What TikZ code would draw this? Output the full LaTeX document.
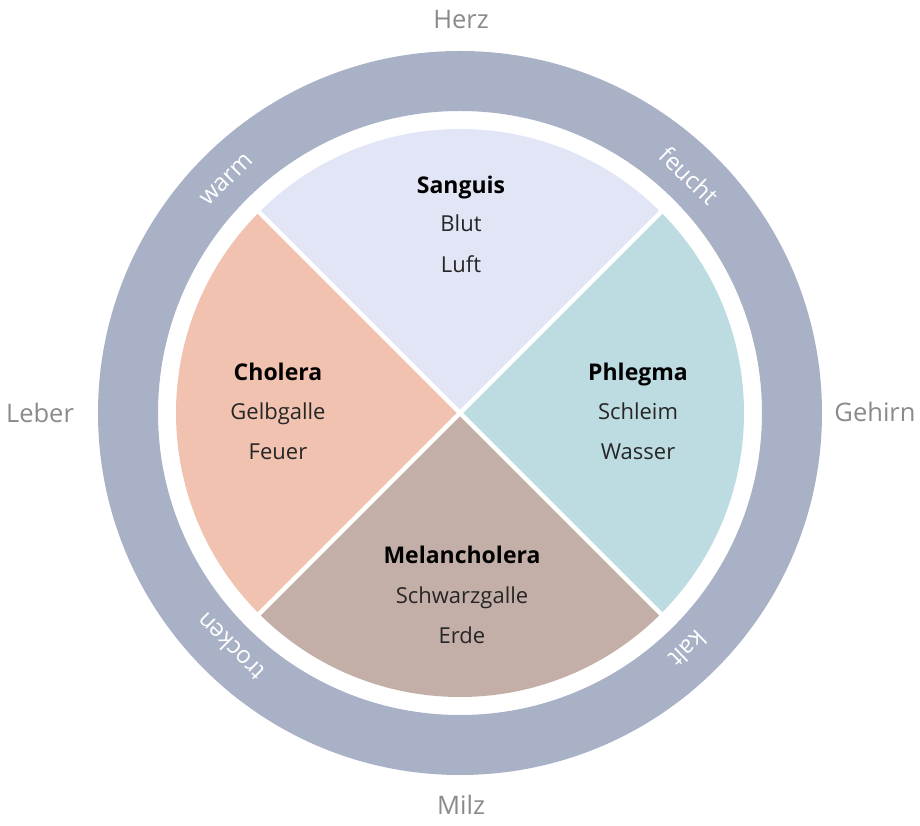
\documentclass[tikz,border=0pt]{standalone}
\usepackage{fontspec}
\setmainfont{Open Sans}
\usetikzlibrary{positioning}
\definecolor{ringblue}{HTML}{A9B1C6}
\definecolor{sanguiscol}{HTML}{E1E5F5}
\definecolor{cholcol}{HTML}{F0C2AF}
\definecolor{phlegcol}{HTML}{BDDCE1}
\definecolor{melancol}{HTML}{C3AFA8}
\definecolor{organgray}{HTML}{8A8A8A}

\begin{document}
\begin{tikzpicture}[
    x=1pt, y=1pt,
    title/.style={font=\fontsize{23}{27}\selectfont\bfseries, text=black, anchor=base, inner sep=0pt},
    sub/.style={font=\fontsize{22}{26}\selectfont, text=black!85, anchor=base, inner sep=0pt},
    organ/.style={font=\fontsize{25.5}{30}\selectfont, text=organgray},
    quality/.style={font=\fontsize{24}{28}\selectfont, text=white},
    gap/.style={draw=white, line width=4.5pt}
]
\useasboundingbox (-460pt,-413pt) rectangle (460pt,413pt);

% Outer ring
\fill[ringblue, even odd rule] (0,0) circle (362pt) (0,0) circle (302pt);

% Sectors
\fill[sanguiscol] (0,0) -- (45:284pt) arc (45:135:284pt) -- cycle;
\fill[cholcol] (0,0) -- (135:284pt) arc (135:225:284pt) -- cycle;
\fill[melancol] (0,0) -- (225:284pt) arc (225:315:284pt) -- cycle;
\fill[phlegcol] (0,0) -- (-45:284pt) arc (-45:45:284pt) -- cycle;

% Gaps between sectors
\coordinate (center) at (0,0);
\coordinate (ne) at (45:290pt);
\coordinate (nw) at (135:290pt);
\coordinate (sw) at (225:290pt);
\coordinate (se) at (315:290pt);
\draw[gap] (center) -- (ne);
\draw[gap] (center) -- (nw);
\draw[gap] (center) -- (sw);
\draw[gap] (center) -- (se);

% Sanguis
\node[title] (sanguis) at (1,219) {Sanguis};
\node[sub] (blut) at ([yshift=-38pt]sanguis.base) {Blut};
\node[sub] (luft) at ([yshift=-79pt]sanguis.base) {Luft};

% Cholera
\node[title] (cholera) at (-182,32) {Cholera};
\node[sub] (gelbgalle) at ([yshift=-39pt]cholera.base) {Gelbgalle};
\node[sub] (feuer) at ([yshift=-79pt]cholera.base) {Feuer};

% Phlegma
\node[title] (phlegma) at (178,32) {Phlegma};
\node[sub] (schleim) at ([yshift=-39pt]phlegma.base) {Schleim};
\node[sub] (wasser) at ([yshift=-79pt]phlegma.base) {Wasser};

% Melancholera
\node[title] (melancholera) at (2,-151) {Melancholera};
\node[sub] (schwarzgalle) at ([yshift=-39pt]melancholera.base) {Schwarzgalle};
\node[sub] (erde) at ([yshift=-79pt]melancholera.base) {Erde};

% Qualities on the ring
\node[quality, rotate=45] (warm) at (135:330pt) {warm};
\node[quality, rotate=-44] (feucht) at (46:330pt) {feucht};
\node[quality, rotate=135] (trocken) at (225.5:328pt) {trocken};
\node[quality, rotate=-136] (kalt) at (-46:328pt) {kalt};

% Organs
\node[organ] (herz) at (1,393) {Herz};
\node[organ] (leber) at (-420,0) {Leber};
\node[organ] (gehirn) at (415,1) {Gehirn};
\node[organ] (milz) at (1,-392) {Milz};

\end{tikzpicture}
\end{document}
